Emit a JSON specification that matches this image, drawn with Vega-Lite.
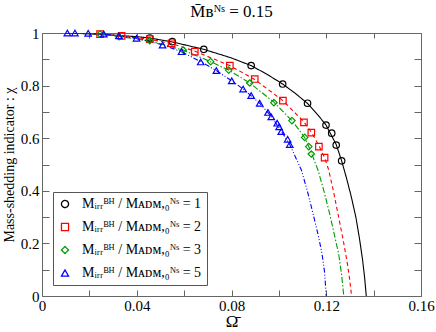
{
  "$schema": "https://vega.github.io/schema/vega-lite/v6.json",
  "width": 379,
  "height": 263,
  "autosize": {"type": "none"},
  "padding": {"left": 42, "top": 33, "right": 15, "bottom": 36},
  "config": {
    "font": "Liberation Serif",
    "view": {"stroke": null},
    "axis": {"grid": false, "domainColor": "#666666", "tickColor": "#666666", "labelColor": "#000000", "labelFont": "Liberation Serif", "labelFontSize": 15, "titleFont": "Liberation Serif", "titleFontWeight": "normal", "titleColor": "#000000"}
  },
  "title": {"text": "M̄ʙᴺˢ = 0.15", "font": "Liberation Serif", "fontSize": 17, "fontWeight": "normal", "offset": 5, "color": "#000000"},
  "datasets": {
    "pts": [
      {"ratio": "1", "omega": 0.0455, "chi": 0.981}, {"ratio": "1", "omega": 0.0550, "chi": 0.967}, {"ratio": "1", "omega": 0.0683, "chi": 0.938}, {"ratio": "1", "omega": 0.0883, "chi": 0.876}, {"ratio": "1", "omega": 0.1016, "chi": 0.806}, {"ratio": "1", "omega": 0.1121, "chi": 0.733}, {"ratio": "1", "omega": 0.1199, "chi": 0.650}, {"ratio": "1", "omega": 0.1223, "chi": 0.619}, {"ratio": "1", "omega": 0.1242, "chi": 0.574}, {"ratio": "1", "omega": 0.1265, "chi": 0.514},
      {"ratio": "2", "omega": 0.0245, "chi": 0.996}, {"ratio": "2", "omega": 0.0336, "chi": 0.989}, {"ratio": "2", "omega": 0.0455, "chi": 0.977}, {"ratio": "2", "omega": 0.0547, "chi": 0.961}, {"ratio": "2", "omega": 0.0645, "chi": 0.929}, {"ratio": "2", "omega": 0.0793, "chi": 0.876}, {"ratio": "2", "omega": 0.0898, "chi": 0.825}, {"ratio": "2", "omega": 0.1017, "chi": 0.743}, {"ratio": "2", "omega": 0.1106, "chi": 0.660}, {"ratio": "2", "omega": 0.1137, "chi": 0.621}, {"ratio": "2", "omega": 0.1169, "chi": 0.568}, {"ratio": "2", "omega": 0.1193, "chi": 0.526},
      {"ratio": "3", "omega": 0.0245, "chi": 0.996}, {"ratio": "3", "omega": 0.0325, "chi": 0.986}, {"ratio": "3", "omega": 0.0455, "chi": 0.971}, {"ratio": "3", "omega": 0.0596, "chi": 0.935}, {"ratio": "3", "omega": 0.0712, "chi": 0.891}, {"ratio": "3", "omega": 0.0788, "chi": 0.859}, {"ratio": "3", "omega": 0.0877, "chi": 0.810}, {"ratio": "3", "omega": 0.0979, "chi": 0.735}, {"ratio": "3", "omega": 0.1055, "chi": 0.667}, {"ratio": "3", "omega": 0.1109, "chi": 0.603}, {"ratio": "3", "omega": 0.1126, "chi": 0.568}, {"ratio": "3", "omega": 0.1137, "chi": 0.540},
      {"ratio": "5", "omega": 0.0107, "chi": 1.0}, {"ratio": "5", "omega": 0.0139, "chi": 1.0}, {"ratio": "5", "omega": 0.0195, "chi": 0.999}, {"ratio": "5", "omega": 0.0261, "chi": 0.996}, {"ratio": "5", "omega": 0.0325, "chi": 0.989}, {"ratio": "5", "omega": 0.0399, "chi": 0.980}, {"ratio": "5", "omega": 0.0509, "chi": 0.954}, {"ratio": "5", "omega": 0.0589, "chi": 0.929}, {"ratio": "5", "omega": 0.0670, "chi": 0.890}, {"ratio": "5", "omega": 0.0736, "chi": 0.857}, {"ratio": "5", "omega": 0.0801, "chi": 0.818}, {"ratio": "5", "omega": 0.0849, "chi": 0.787}, {"ratio": "5", "omega": 0.0883, "chi": 0.762}, {"ratio": "5", "omega": 0.0919, "chi": 0.733}, {"ratio": "5", "omega": 0.0954, "chi": 0.698}, {"ratio": "5", "omega": 0.0968, "chi": 0.681}, {"ratio": "5", "omega": 0.0993, "chi": 0.657}, {"ratio": "5", "omega": 0.1001, "chi": 0.643}, {"ratio": "5", "omega": 0.1010, "chi": 0.625}, {"ratio": "5", "omega": 0.1037, "chi": 0.596}, {"ratio": "5", "omega": 0.1046, "chi": 0.576}
    ],
    "fit": [
      {"ratio": "1", "omega": 0.010, "chi": 1.0}, {"ratio": "1", "omega": 0.020, "chi": 0.997}, {"ratio": "1", "omega": 0.030, "chi": 0.992}, {"ratio": "1", "omega": 0.040, "chi": 0.986}, {"ratio": "1", "omega": 0.0455, "chi": 0.981}, {"ratio": "1", "omega": 0.055, "chi": 0.966}, {"ratio": "1", "omega": 0.0683, "chi": 0.938}, {"ratio": "1", "omega": 0.080, "chi": 0.905}, {"ratio": "1", "omega": 0.0883, "chi": 0.876}, {"ratio": "1", "omega": 0.095, "chi": 0.843}, {"ratio": "1", "omega": 0.1016, "chi": 0.806}, {"ratio": "1", "omega": 0.107, "chi": 0.770}, {"ratio": "1", "omega": 0.1121, "chi": 0.732}, {"ratio": "1", "omega": 0.1165, "chi": 0.688}, {"ratio": "1", "omega": 0.1199, "chi": 0.650}, {"ratio": "1", "omega": 0.1242, "chi": 0.576}, {"ratio": "1", "omega": 0.1265, "chi": 0.514}, {"ratio": "1", "omega": 0.1285, "chi": 0.450}, {"ratio": "1", "omega": 0.1305, "chi": 0.380}, {"ratio": "1", "omega": 0.1325, "chi": 0.300}, {"ratio": "1", "omega": 0.134, "chi": 0.220}, {"ratio": "1", "omega": 0.1353, "chi": 0.140}, {"ratio": "1", "omega": 0.1362, "chi": 0.070}, {"ratio": "1", "omega": 0.1369, "chi": 0.0},
      {"ratio": "2", "omega": 0.012, "chi": 1.0}, {"ratio": "2", "omega": 0.0245, "chi": 0.996}, {"ratio": "2", "omega": 0.0336, "chi": 0.989}, {"ratio": "2", "omega": 0.0455, "chi": 0.976}, {"ratio": "2", "omega": 0.0547, "chi": 0.960}, {"ratio": "2", "omega": 0.0645, "chi": 0.931}, {"ratio": "2", "omega": 0.0793, "chi": 0.876}, {"ratio": "2", "omega": 0.0898, "chi": 0.823}, {"ratio": "2", "omega": 0.1017, "chi": 0.743}, {"ratio": "2", "omega": 0.1106, "chi": 0.662}, {"ratio": "2", "omega": 0.1137, "chi": 0.623}, {"ratio": "2", "omega": 0.1169, "chi": 0.572}, {"ratio": "2", "omega": 0.1193, "chi": 0.526}, {"ratio": "2", "omega": 0.121, "chi": 0.480}, {"ratio": "2", "omega": 0.123, "chi": 0.400}, {"ratio": "2", "omega": 0.125, "chi": 0.310}, {"ratio": "2", "omega": 0.127, "chi": 0.220}, {"ratio": "2", "omega": 0.1288, "chi": 0.130}, {"ratio": "2", "omega": 0.1298, "chi": 0.070}, {"ratio": "2", "omega": 0.1307, "chi": 0.0},
      {"ratio": "3", "omega": 0.011, "chi": 1.0}, {"ratio": "3", "omega": 0.0245, "chi": 0.996}, {"ratio": "3", "omega": 0.0325, "chi": 0.987}, {"ratio": "3", "omega": 0.0455, "chi": 0.970}, {"ratio": "3", "omega": 0.0596, "chi": 0.935}, {"ratio": "3", "omega": 0.0712, "chi": 0.891}, {"ratio": "3", "omega": 0.0788, "chi": 0.859}, {"ratio": "3", "omega": 0.0877, "chi": 0.810}, {"ratio": "3", "omega": 0.0979, "chi": 0.737}, {"ratio": "3", "omega": 0.1055, "chi": 0.667}, {"ratio": "3", "omega": 0.1109, "chi": 0.603}, {"ratio": "3", "omega": 0.1137, "chi": 0.545}, {"ratio": "3", "omega": 0.1165, "chi": 0.479}, {"ratio": "3", "omega": 0.119, "chi": 0.400}, {"ratio": "3", "omega": 0.1214, "chi": 0.314}, {"ratio": "3", "omega": 0.1235, "chi": 0.230}, {"ratio": "3", "omega": 0.1252, "chi": 0.162}, {"ratio": "3", "omega": 0.1265, "chi": 0.080}, {"ratio": "3", "omega": 0.1274, "chi": 0.0},
      {"ratio": "5", "omega": 0.0107, "chi": 1.0}, {"ratio": "5", "omega": 0.0195, "chi": 0.999}, {"ratio": "5", "omega": 0.0261, "chi": 0.995}, {"ratio": "5", "omega": 0.0325, "chi": 0.989}, {"ratio": "5", "omega": 0.0399, "chi": 0.980}, {"ratio": "5", "omega": 0.0509, "chi": 0.955}, {"ratio": "5", "omega": 0.0589, "chi": 0.929}, {"ratio": "5", "omega": 0.067, "chi": 0.891}, {"ratio": "5", "omega": 0.0736, "chi": 0.857}, {"ratio": "5", "omega": 0.0801, "chi": 0.818}, {"ratio": "5", "omega": 0.0849, "chi": 0.787}, {"ratio": "5", "omega": 0.0919, "chi": 0.733}, {"ratio": "5", "omega": 0.0968, "chi": 0.683}, {"ratio": "5", "omega": 0.1010, "chi": 0.627}, {"ratio": "5", "omega": 0.1046, "chi": 0.576}, {"ratio": "5", "omega": 0.1095, "chi": 0.479}, {"ratio": "5", "omega": 0.112, "chi": 0.400}, {"ratio": "5", "omega": 0.1144, "chi": 0.314}, {"ratio": "5", "omega": 0.1165, "chi": 0.235}, {"ratio": "5", "omega": 0.1182, "chi": 0.162}, {"ratio": "5", "omega": 0.1193, "chi": 0.090}, {"ratio": "5", "omega": 0.1200, "chi": 0.0}
    ]
  },
  "resolve": {"axis": {"x": "independent", "y": "independent"}},
  "layer": [
    {
      "data": {"name": "fit"},
      "transform": [{"calculate": "datum.ratio", "as": "dash"}],
      "mark": {"type": "line", "strokeWidth": 1.1, "clip": true},
      "encoding": {
        "x": {"field": "omega", "type": "quantitative", "scale": {"domain": [0, 0.16], "nice": false, "zero": false},
          "axis": {"orient": "bottom", "title": "Ω̄", "titleFontSize": 17, "titlePadding": 0,
            "values": [0, 0.02, 0.04, 0.06, 0.08, 0.1, 0.12, 0.14, 0.16], "tickSize": -6, "labelPadding": 8, "labelFlush": false, "labelOverlap": false,
            "labelExpr": "round(datum.value*50)%2==0 ? (datum.value==0 ? '0' : format(datum.value, '.2f')) : ''",
            "encode": {"ticks": {"update": {"y2": {"signal": "round(datum.value*50)%2==0 ? -6 : -3"}}}}}},
        "y": {"field": "chi", "type": "quantitative", "scale": {"domain": [0, 1], "nice": false, "zero": false},
          "axis": {"orient": "left", "title": "Mass-shedding indicator : χ", "titleFontSize": 14, "titlePadding": 4,
            "values": [0, 0.1, 0.2, 0.3, 0.4, 0.5, 0.6, 0.7, 0.8, 0.9, 1], "tickSize": -7, "labelPadding": 10, "labelFlush": false, "labelOverlap": false,
            "labelExpr": "round(datum.value*10)%2==0 ? ((datum.value==0 || datum.value==1) ? format(datum.value, 'd') : format(datum.value, '.1f')) : ''",
            "encode": {"ticks": {"update": {"x2": {"signal": "round(datum.value*10)%2==0 ? 7 : 4"}}}}}},
        "color": {"field": "ratio", "type": "nominal", "scale": {"domain": ["1", "2", "3", "5"], "range": ["#000000", "#ff0000", "#009a00", "#0000ff"]},
          "legend": {"orient": "bottom-left", "offset": 11, "title": null, "padding": 5, "strokeColor": "#555555", "fillColor": "#ffffff",
            "labelFont": "Liberation Serif", "labelFontSize": 14, "labelColor": "#000000", "symbolSize": 50, "symbolStrokeWidth": 1.3, "symbolFillColor": "transparent", "symbolDash": [1, 0], "rowPadding": 9, "labelOffset": 10,
            "labelExpr": "'Mᵢᵣᵣᴮᴴ / Mᴀᴅᴍ,₀ᴺˢ = ' + datum.label"}},
        "strokeDash": {"field": "dash", "type": "nominal", "scale": {"range": [[1, 0], [4, 3], [6, 2, 1.5, 2], [5, 2, 1, 2, 1, 2]]}, "legend": null},
        "order": {"field": "omega", "type": "quantitative"}
      }
    },
    {
      "data": {"name": "pts"},
      "transform": [{"calculate": "datum.ratio", "as": "marker"}],
      "mark": {"type": "point", "filled": false, "strokeWidth": 1.2, "size": 42, "opacity": 1},
      "encoding": {
        "x": {"field": "omega", "type": "quantitative",
          "axis": {"orient": "top", "title": null, "labels": false, "values": [0, 0.02, 0.04, 0.06, 0.08, 0.1, 0.12, 0.14, 0.16], "tickSize": -5}},
        "y": {"field": "chi", "type": "quantitative",
          "axis": {"orient": "right", "title": null, "labels": false, "values": [0, 0.1, 0.2, 0.3, 0.4, 0.5, 0.6, 0.7, 0.8, 0.9, 1], "tickSize": -7,
            "encode": {"ticks": {"update": {"x2": {"signal": "round(datum.value*10)%2==0 ? -7 : -4"}}}}}},
        "stroke": {"field": "ratio", "type": "nominal", "scale": {"domain": ["1", "2", "3", "5"], "range": ["#000000", "#ff0000", "#009a00", "#0000ff"]}, "legend": null},
        "shape": {"field": "marker", "type": "nominal", "scale": {"domain": ["1", "2", "3", "5"], "range": ["circle", "square", "diamond", "triangle-up"]}, "legend": null}
      }
    }
  ]
}
